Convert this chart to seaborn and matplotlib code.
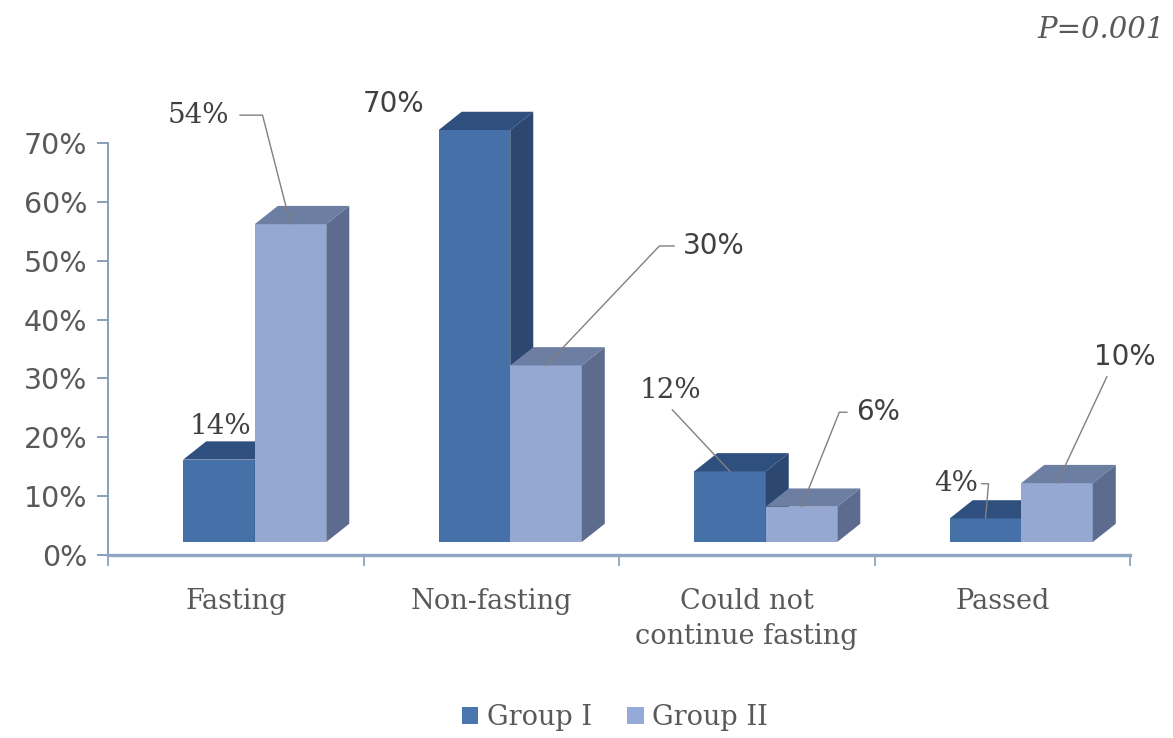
import numpy as np
import pandas as pd
import seaborn as sns
import matplotlib
matplotlib.use("Agg")
import matplotlib.pyplot as plt
from matplotlib.patches import Polygon, Patch
from matplotlib.transforms import ScaledTranslation
from matplotlib.ticker import PercentFormatter

# ---- data -------------------------------------------------------------
categories = ["Fasting", "Non-fasting", "Could not\ncontinue fasting", "Passed"]
groups = ["Group I", "Group II"]
group1_pct = [14, 70, 12, 4]
group2_pct = [54, 30, 6, 10]
p_value_text = "P=0.001"

# ---- styling ----------------------------------------------------------
front_col = {"Group I": "#4571A8", "Group II": "#94A8D1"}
top_col = {"Group I": "#2F4F7E", "Group II": "#6D7EA3"}
side_col = {"Group I": "#2C4770", "Group II": "#5D6C8E"}
legend_col = {"Group I": "#4A75AE", "Group II": "#95AAD6"}
text_gray = "#595959"
label_gray = "#404040"
leader_gray = "#808080"

# depth of the pseudo-3D boxes (category units, percent units)
DEPTH_X = 0.09
DEPTH_Y = 3.1

# label offsets (points from the top-front edge centre of each bar)
offsets = {
    "Group I": [(1, 23.5), (-58, 19), (-43, 58), (-21, 25)],
    "Group II": [(-66, 78.5), (121, 86), (55, 68), (49, 91)],
}
# leader lines: None, ("straight", relpos, shrink) or ("angle", angleB, shrink)
leaders = {
    "Group I": [None, None, ("straight", (0.45, 0.0), 2),
                ("angle", 85, 0)],
    "Group II": [("angle", 104.4, 5), ("angle", 46.5, 4), ("angle", 68.2, 4),
                 ("straight", (0.25, 0.0), 2)],
}
label_fonts = {
    "Group I": ["DejaVu Serif", "DejaVu Sans", "DejaVu Serif", "DejaVu Serif"],
    "Group II": ["DejaVu Serif", "DejaVu Sans", "DejaVu Sans", "DejaVu Sans"],
}

df = pd.DataFrame({
    "category": categories * 2,
    "group": [groups[0]] * len(categories) + [groups[1]] * len(categories),
    "value": group1_pct + group2_pct,
})

sns.set_theme(style="ticks")
plt.rcParams["font.family"] = ["DejaVu Sans"]

W, H = 1173, 738
fig = plt.figure(figsize=(W / 100, H / 100), dpi=100)
ax = fig.add_axes([108 / W, 1 - 555 / H, 1022 / W, 412 / H])

sns.barplot(data=df, x="category", y="value", hue="group",
            order=categories, hue_order=groups,
            palette=[front_col[g] for g in groups],
            width=0.56, saturation=1, linewidth=0, errorbar=None,
            legend=False, ax=ax)

ax.set_xlim(-0.5, len(categories) - 0.5)
ax.set_ylim(0, 70)

# boxes sit slightly forward of the axis floor
bar_tr = ax.transData + ScaledTranslation(0.19, 0.13, fig.dpi_scale_trans)

bars = list(ax.patches)
values = {"Group I": group1_pct, "Group II": group2_pct}
n = len(categories)
for gi, g in enumerate(groups):
    z = 2 + gi
    for ci in range(n):
        p = bars[gi * n + ci]
        p.set_transform(bar_tr)
        p.set_clip_on(False)
        p.set_zorder(z)
        x0, w, h = p.get_x(), p.get_width(), p.get_height()
        top = Polygon([(x0, h), (x0 + w, h), (x0 + w + DEPTH_X, h + DEPTH_Y),
                       (x0 + DEPTH_X, h + DEPTH_Y)], closed=True,
                      facecolor=top_col[g], edgecolor="none",
                      transform=bar_tr, clip_on=False, zorder=z)
        side = Polygon([(x0 + w, 0), (x0 + w + DEPTH_X, DEPTH_Y),
                        (x0 + w + DEPTH_X, h + DEPTH_Y), (x0 + w, h)],
                       closed=True, facecolor=side_col[g], edgecolor="none",
                       transform=bar_tr, clip_on=False, zorder=z)
        ax.add_patch(top)
        ax.add_patch(side)

        # value label with optional leader line
        anchor = (x0 + w / 2, h)
        lead = leaders[g][ci]
        kw = dict(xy=anchor, xycoords=bar_tr,
                  xytext=offsets[g][ci], textcoords="offset points",
                  ha="center", va="center", fontsize=20,
                  family=label_fonts[g][ci], color=label_gray,
                  annotation_clip=False, zorder=6)
        if lead is not None:
            if lead[0] == "angle":
                kw["arrowprops"] = dict(
                    arrowstyle="-", color=leader_gray, lw=1.0,
                    shrinkA=lead[2], shrinkB=0,
                    connectionstyle=f"angle,angleA=0,angleB={lead[1]},rad=0")
            else:
                kw["arrowprops"] = dict(
                    arrowstyle="-", color=leader_gray, lw=1.0,
                    shrinkA=lead[2], shrinkB=0, relpos=lead[1])
        ax.annotate(f"{values[g][ci]}%", **kw)

# ---- axes styling -----------------------------------------------------
sns.despine(ax=ax, top=True, right=True)
ax.spines["left"].set_color("#8098B5")
ax.spines["left"].set_linewidth(1.3)
ax.spines["bottom"].set_color("#8EA6C4")
ax.spines["bottom"].set_linewidth(2.4)

ax.set_yticks(np.arange(0, 71, 10))
ax.yaxis.set_major_formatter(PercentFormatter(100, decimals=0))
ax.tick_params(axis="y", direction="out", length=8, width=1.3,
               color="#8098B5", pad=7, labelsize=20.5, labelcolor=text_gray)

ax.set_xticks(np.arange(n))
ax.set_xticklabels(categories, family="DejaVu Serif", fontsize=19.5,
                   color=text_gray, linespacing=1.35)
ax.set_xticks(np.arange(-0.5, n, 1.0), minor=True)
ax.tick_params(axis="x", which="major", length=0, pad=24)
ax.tick_params(axis="x", which="minor", direction="out", length=8,
               width=1.3, color="#8EA6C4")
ax.set_xlabel("")
ax.set_ylabel("")

handles = [Patch(facecolor=legend_col[g], edgecolor="none") for g in groups]
fig.legend(handles, groups, loc="center", bbox_to_anchor=(0.524, 0.028),
           ncol=2, frameon=False,
           prop={"family": "DejaVu Serif", "size": 19.5},
           handlelength=0.62, handleheight=0.62, handletextpad=0.3,
           columnspacing=1.3, labelcolor=text_gray)

fig.text(1165 / W, 1 - 30 / H, p_value_text, ha="right", va="center",
         style="italic", family="DejaVu Serif", fontsize=21, color=text_gray)

fig.savefig("out.png", dpi=100)
